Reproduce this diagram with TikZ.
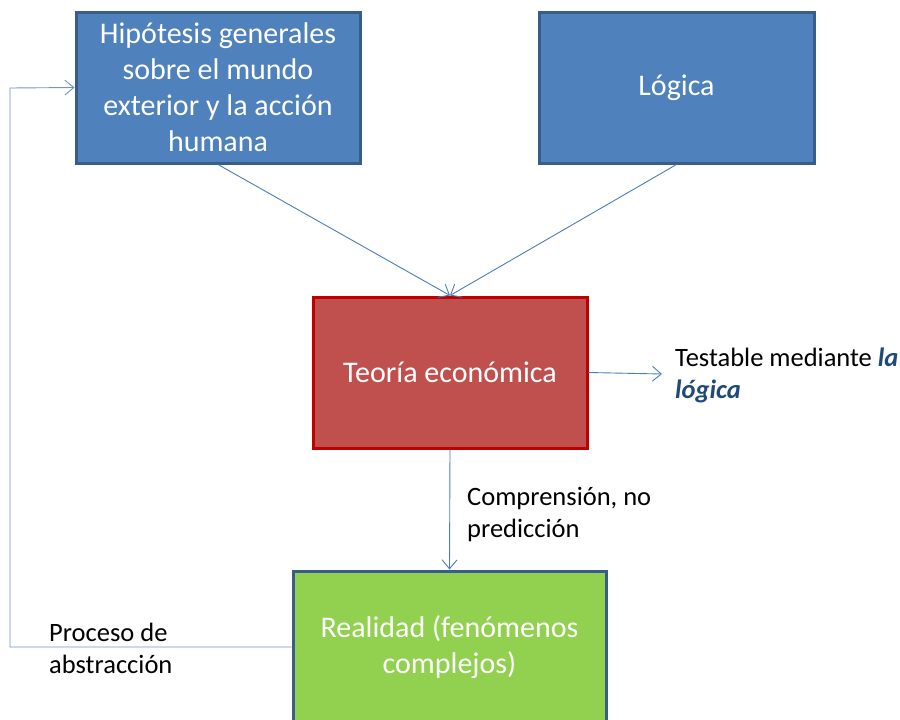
\documentclass[tikz,border=0pt]{standalone}
\usepackage{fontspec}
\setmainfont{Carlito}
\usetikzlibrary{arrows.meta}
\definecolor{boxblue}{HTML}{4F81BD}
\definecolor{edgeblue}{HTML}{385D8A}
\definecolor{boxred}{HTML}{C0504D}
\definecolor{edgered}{HTML}{C00000}
\definecolor{boxgreen}{HTML}{92D050}
\definecolor{linkblue}{HTML}{4A7EBB}
\definecolor{backblue}{HTML}{6F94CC}
\definecolor{notedark}{HTML}{1F497D}
\begin{document}
\begin{tikzpicture}[x=1pt,y=-1pt,
      box/.style={draw, line width=3pt, text=white, align=center,
        font=\fontsize{30}{36}\selectfont, inner sep=0pt},
      bluebox/.style={box, fill=boxblue, draw=edgeblue},
      note/.style={align=left, font=\fontsize{26.5}{32}\selectfont, inner sep=0pt},
      link/.style={draw=linkblue, line width=0.9pt,
        -{Straight Barb[length=9pt,width=15pt,line width=0.9pt]}}]
      \useasboundingbox (0,0) rectangle (900,720);
      \begin{scope}
      \clip (0,0) rectangle (900,720);
      \node[bluebox, minimum width=284pt, minimum height=151pt] (hipotesis) at (218,87.5)
        {Hipótesis generales\\sobre el mundo\\exterior y la acción\\humana};
      \node[bluebox, minimum width=275pt, minimum height=151pt] (logica) at (676.5,87.5) {Lógica};
      \node[box, fill=boxred, draw=edgered, minimum width=274pt, minimum height=151pt]
        (teoria) at (450,372.5) {Teoría económica};
      \node[box, fill=boxgreen, draw=edgeblue, minimum width=313pt, minimum height=152pt]
        (realidad) at (449.5,647) {Realidad (fenómenos\\complejos)};
      \end{scope}
      \node[note, anchor=west] (testable) at (675,375)
        {Testable mediante \textcolor{notedark}{\bfseries\itshape la}\\
         \textcolor{notedark}{\bfseries\itshape lógica}};
      \node[note, anchor=west] (comprension) at (467,515) {Comprensión, no\\predicción};
      \node[note, anchor=west] (proceso) at (49,648) {Proceso de\\abstracción};
      \coordinate (esquina) at (10,88);
      \coordinate (flecha) at (662,374);
      \draw[link] (hipotesis.south) -- (teoria.north);
      \draw[link] (logica.south) -- (teoria.north);
      \draw[link] (teoria.east) -- (flecha);
      \draw[link] (teoria.south) -- (realidad.north);
      \draw[link, draw=backblue] (realidad.west) -| (esquina) -- (hipotesis.west);
    \end{tikzpicture}
\end{document}
